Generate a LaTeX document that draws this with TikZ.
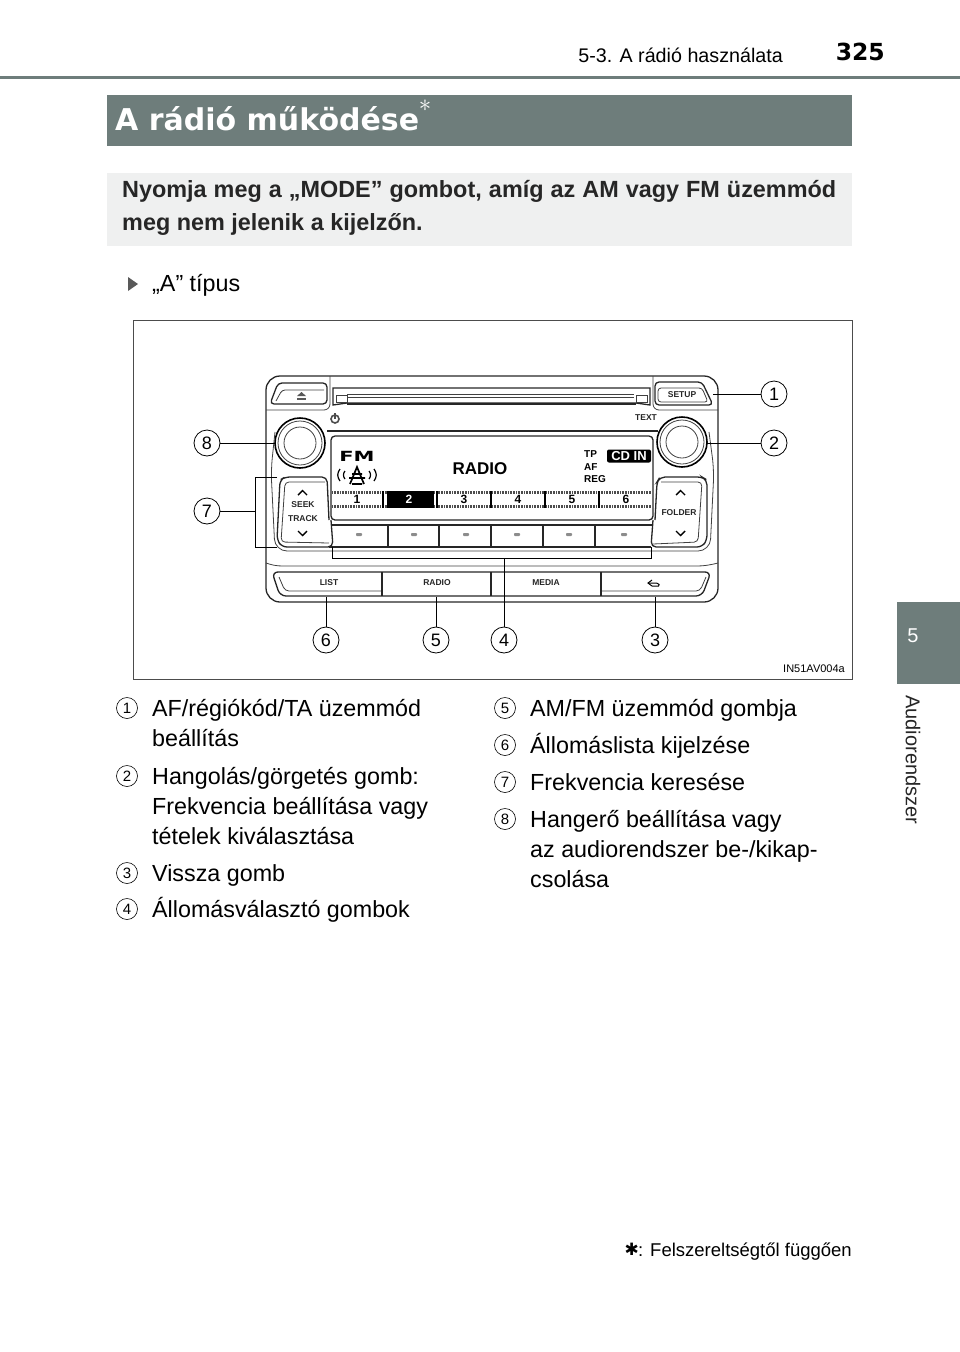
\documentclass[tikz,border=0pt]{standalone}
\usepackage{fontspec}
\setmainfont{Liberation Sans}
\newfontfamily\headfont{DejaVu Sans}
\usetikzlibrary{positioning, calc}
\definecolor{tabgray}{HTML}{6E7D7B}
\definecolor{boxgray}{HTML}{EFF0F0}
\tikzset{
  radioline/.style={line width=1.3pt, black!85},
  thinradio/.style={line width=0.8pt, black!75},
  leader/.style={line width=0.8pt, black},
  callout/.style={draw, circle, line width=0.8pt, minimum size=26pt, inner sep=0pt, font=\fontsize{18}{18}\selectfont},
  itemnum/.style={draw, circle, line width=0.6pt, minimum size=21pt, inner sep=0pt, font=\fontsize{15}{15}\selectfont},
  itemtext/.style={anchor=north west, align=left, inner sep=0pt, font=\fontsize{23.3}{30}\selectfont, execute at begin node={\strut}},
  keylabel/.style={inner sep=0pt, text=black!85, font=\fontsize{8.5}{9}\bfseries\selectfont},
  presetnum/.style={inner sep=0pt, font=\fontsize{12}{12}\bfseries\selectfont},
  keydash/.style={fill=black!45, rounded corners=0.8pt}
}
\begin{document}
\begin{tikzpicture}[x=1pt, y=-1pt]
  \useasboundingbox (0,0) rectangle (960,1352);

  % page head
  \fill[tabgray] (0,76) rectangle (960,79);
  \node[anchor=east, inner sep=0pt, font=\headfont\fontsize{23.5}{24}\bfseries\selectfont] (pagenum) at (885,52) {325};
  \node[anchor=east, inner sep=0pt, font=\fontsize{19.7}{20}\selectfont] (chapter) at (783,55) {5-3. A rádió használata};
  \fill[tabgray] (107,95) rectangle (852,146);
  \node[anchor=west, inner sep=0pt, text=white, font=\headfont\fontsize{30}{30}\bfseries\selectfont] (title) at (115,119) {A rádió működése};
  \node[inner sep=0pt, text=white, font=\fontsize{30}{30}\selectfont] (titlestar) at (425,106) {$\ast$};

  \fill[boxgray] (107,173) rectangle (852,246);
  \node[anchor=north west, inner sep=0pt, text width=714pt, align=justify, font=\fontsize{23.4}{33}\bfseries\selectfont, text=black!85] (intro) at (122,180) {Nyomja meg a „MODE” gombot, amíg az AM vagy FM üzemmód\linebreak meg nem jelenik a kijelzőn.};

  % side tab
  \fill[tabgray] (897,602) rectangle (960,684);
  \node[text=white, inner sep=0pt, font=\fontsize{20}{20}\selectfont] (tabnum) at (913,636) {5};
  \node[rotate=-90, anchor=west, inner sep=0pt, font=\fontsize{20}{20}\selectfont, text=black!85] (tabtext) at (913,695) {Audiorendszer};

  \fill[black!65] (128,277) -- (138,284) -- (128,291) -- cycle;
  \node[anchor=west, inner sep=0pt, font=\fontsize{23.3}{24}\selectfont] (typeA) at (152,285) {„A” típus};

  % frame
  \draw[line width=0.7pt, black!70] (133,320) rectangle (852,679);
  \node[anchor=east, inner sep=0pt, font=\fontsize{11}{11}\selectfont] (code) at (845,669) {IN51AV004a};

  % body
  \draw[radioline, rounded corners=14pt] (266,376) rectangle (718,602);
  \draw[thinradio, rounded corners=6pt] (266,410) -- (330,410) -- (330,376);
  \draw[thinradio, rounded corners=6pt] (718,410) -- (653,410) -- (653,376);
  \draw[radioline, rounded corners=4pt] (270,404) -- (278,383) -- (327,383) -- (327,404) -- cycle;
  \draw[thinradio, rounded corners=3pt] (276,401) -- (282,390) -- (324,390);
  \fill[black!65] (297,396) -- (301.5,392) -- (306,396) -- cycle;
  \fill[black!65] (297,398) rectangle (306,400);
  \draw[radioline, rounded corners=4pt] (655,405) -- (655,382) -- (702,382) -- (713,405) -- cycle;
  \draw[thinradio, rounded corners=3pt] (658,402) -- (658,388) -- (702,388) -- (708,402) -- cycle;
  \node[keylabel] (setup) at (682,395) {SETUP};

  % slot
  \draw[radioline] (333,388) -- (650,388) -- (650,405) -- (636,403) -- (347,403) -- (333,405) -- cycle;
  \draw[line width=2pt, black!85] (347,404) -- (636,404);
  \draw[thinradio] (347,394) -- (634,394) (347,397) -- (634,397) (336,395) rectangle (347,402) (636,395) rectangle (647,402);

  % power and text
  \draw[line width=1.6pt, black!70] (335,419) circle (4);
  \draw[line width=1.4pt, black!70] (335,413) -- (335,419);
  \node[keylabel] (textkey) at (646,418) {TEXT};

  % knobs
  \draw[line width=1.6pt, black] (300,443) circle (25);
  \draw[thinradio] (300,443) circle (22);
  \draw[thinradio] (300,443) circle (16);
  \draw[line width=1.6pt, black] (682,442) circle (25);
  \draw[thinradio] (682,442) circle (22);
  \draw[thinradio] (682,442) circle (16);

  % display
  \draw[radioline] (327,431) -- (658,431);
  \draw[radioline, rounded corners=4pt] (331,436) rectangle (653,520);
  \node[inner sep=0pt, xscale=1.5, font=\headfont\fontsize{14}{14}\bfseries\selectfont] (fm) at (357,456) {FM};
  \draw[line width=1.7pt] (350,484) -- (357,467) -- (364,484) (352,474) -- (362,474) (349,478) -- (365,478) (352,484) -- (362,484);
  \draw[line width=1.2pt] (340,469) .. controls (337,473) and (337,477) .. (340,481);
  \draw[line width=1.2pt] (345,471) .. controls (343,473) and (343,477) .. (345,479);
  \draw[line width=1.2pt] (374,469) .. controls (377,473) and (377,477) .. (374,481);
  \draw[line width=1.2pt] (369,471) .. controls (371,473) and (371,477) .. (369,479);
  \node[inner sep=0pt, font=\fontsize{17}{17}\bfseries\selectfont] (radiotext) at (480,469) {RADIO};
  \node[anchor=west, inner sep=0pt, font=\fontsize{10}{10}\bfseries\selectfont] (tp) at (584,454) {TP};
  \node[anchor=west, inner sep=0pt, font=\fontsize{10}{10}\bfseries\selectfont] (af) at (584,467) {AF};
  \node[anchor=west, inner sep=0pt, font=\fontsize{10}{10}\bfseries\selectfont] (reg) at (584,479) {REG};
  \node[fill=black, rounded corners=2pt, text=white, inner sep=0pt, minimum width=44pt, minimum height=13pt, font=\fontsize{13}{13}\bfseries\selectfont] (cdin) at (629,456) {CD IN};

  % presets
  \draw[line width=3pt, black!70, dash pattern=on 0.8pt off 0.8pt] (332,492.5) -- (651,492.5) (332,506.5) -- (651,506.5);
  \fill[black] (387,491) rectangle (434,508);
  \draw[line width=2.2pt, black] (383,491) -- (383,508) (437,491) -- (437,508) (491,491) -- (491,508) (545,491) -- (545,508) (599,491) -- (599,508);
  \node[presetnum] (pre1) at (357,499.5) {1};
  \node[presetnum, text=white] (pre2) at (409,499.5) {2};
  \node[presetnum] (pre3) at (464,499.5) {3};
  \node[presetnum] (pre4) at (518,499.5) {4};
  \node[presetnum] (pre5) at (572,499.5) {5};
  \node[presetnum] (pre6) at (626,499.5) {6};

  % station keys
  \draw[radioline] (331,525) -- (653,525) (329,547) -- (651,547);
  \draw[radioline] (388,525) -- (388,547) (439,525) -- (439,547) (491,525) -- (491,547) (543,525) -- (543,547) (595,525) -- (595,547);
  \fill[keydash] (356,533) rectangle (362,536);
  \fill[keydash] (411,533) rectangle (417,536);
  \fill[keydash] (463,533) rectangle (469,536);
  \fill[keydash] (514,533) rectangle (520,536);
  \fill[keydash] (566,533) rectangle (572,536);
  \fill[keydash] (621,533) rectangle (627,536);

  % side panels
  \draw[radioline, rounded corners=5pt] (331,520) -- (333,547) -- (282,547) -- (277,540) -- (280,480) -- (285,477) -- (327,477) -- (329,520);
  \draw[thinradio, rounded corners=4pt] (325,482) -- (285,482) -- (281,542) -- (329,543);
  \draw[radioline, rounded corners=5pt] (653,520) -- (651,547) -- (702,547) -- (707,540) -- (707,480) -- (702,477) -- (660,477) -- (657,482) -- (655,520);
  \draw[thinradio, rounded corners=4pt] (661,482) -- (702,482) -- (698,542) -- (653,544);
  \draw[thinradio, rounded corners=12pt] (275,432) -- (271,470) -- (275,551) -- (710,551) -- (714,470) -- (709,432);
  \draw[line width=1.4pt] (298,495) -- (302.5,490.5) -- (307,495);
  \draw[line width=1.4pt] (298,531) -- (302.5,535.5) -- (307,531);
  \draw[line width=1.4pt] (676,495) -- (680.5,490.5) -- (685,495);
  \draw[line width=1.4pt] (676,531) -- (680.5,535.5) -- (685,531);
  \node[keylabel] (seek) at (303,505) {SEEK};
  \node[keylabel] (track) at (303,519) {TRACK};
  \node[keylabel] (folder) at (679,513) {FOLDER};

  % bottom keys
  \draw[thinradio] (266,563) .. controls (272,565) and (276,566) .. (283,566) -- (697,566) .. controls (704,566) and (710,565) .. (718,563);
  \draw[radioline, rounded corners=6pt] (272,572) -- (711,572) -- (702,596) -- (280,596) -- cycle;
  \draw[thinradio, rounded corners=4pt] (279,577) -- (285,591) -- (382,591);
  \draw[thinradio, rounded corners=4pt] (706,577) -- (700,591) -- (601,591);
  \draw[radioline] (382,572) -- (382,596) (491,572) -- (491,596) (601,572) -- (601,596);
  \node[keylabel] (list) at (329,583) {LIST};
  \node[keylabel] (radiokey) at (437,583) {RADIO};
  \node[keylabel] (media) at (546,583) {MEDIA};
  \draw[line width=1pt, rounded corners=1.5pt] (648,583) -- (658,583) -- (660,586) -- (652,586);
  \draw[line width=1pt] (652,580) -- (648,583) -- (652,586);

  % callouts
  \node[callout] (c1) at (774,394) {1};
  \node[callout] (c2) at (774,443) {2};
  \node[callout] (c3) at (655,640) {3};
  \node[callout] (c4) at (504,640) {4};
  \node[callout] (c5) at (436,640) {5};
  \node[callout] (c6) at (326,640) {6};
  \node[callout] (c7) at (207,511) {7};
  \node[callout] (c8) at (207,443) {8};
  \coordinate (p1) at (713,394);
  \coordinate (p2) at (707,443);
  \coordinate (p3) at (655,597);
  \coordinate (p4) at (504,558);
  \coordinate (p5) at (436,597);
  \coordinate (p6) at (326,597);
  \coordinate (p7) at (255,511);
  \coordinate (p8) at (275,443);
  \draw[leader] (c1) -- (p1);
  \draw[leader] (c2) -- (p2);
  \draw[leader] (c3) -- (p3);
  \draw[leader] (c4) -- (p4);
  \draw[leader] (c5) -- (p5);
  \draw[leader] (c6) -- (p6);
  \draw[leader] (c7) -- (p7);
  \draw[leader] (c8) -- (p8);
  \draw[leader] (277,477) -- (255,477) -- (255,547) -- (277,547);
  \draw[leader] (332,547) -- (332,558) -- (651,558) -- (651,547);

  % list left
  \node[itemnum] (n1) at (127,708) {1};
  \node[itemtext] (t1) at (152,699) {AF/régiókód/TA üzemmód\\beállítás};
  \node[itemnum] (n2) at (127,776) {2};
  \node[itemtext] (t2) at (152,767) {Hangolás/görgetés gomb:\\Frekvencia beállítása vagy\\tételek kiválasztása};
  \node[itemnum] (n3) at (127,873) {3};
  \node[itemtext] (t3) at (152,860) {Vissza gomb};
  \node[itemnum] (n4) at (127,909) {4};
  \node[itemtext] (t4) at (152,896) {Állomásválasztó gombok};

  % list right
  \node[itemnum] (n5) at (505,708) {5};
  \node[itemtext] (t5) at (530,695) {AM/FM üzemmód gombja};
  \node[itemnum] (n6) at (505,745) {6};
  \node[itemtext] (t6) at (530,732) {Állomáslista kijelzése};
  \node[itemnum] (n7) at (505,782) {7};
  \node[itemtext] (t7) at (530,769) {Frekvencia keresése};
  \node[itemnum] (n8) at (505,819) {8};
  \node[itemtext] (t8) at (530,810) {Hangerő beállítása vagy\\az audiorendszer be-/kikap-\\csolása};

  % footnote
  \node[anchor=east, inner sep=0pt, font=\fontsize{18.5}{18.5}\selectfont] (foot) at (852,1252) {: Felszereltségtől függően};
  \node[left=-1pt of foot, inner sep=0pt, font=\headfont\fontsize{17}{17}\selectfont, yshift=3pt] (footstar) {✱};
\end{tikzpicture}
\end{document}
